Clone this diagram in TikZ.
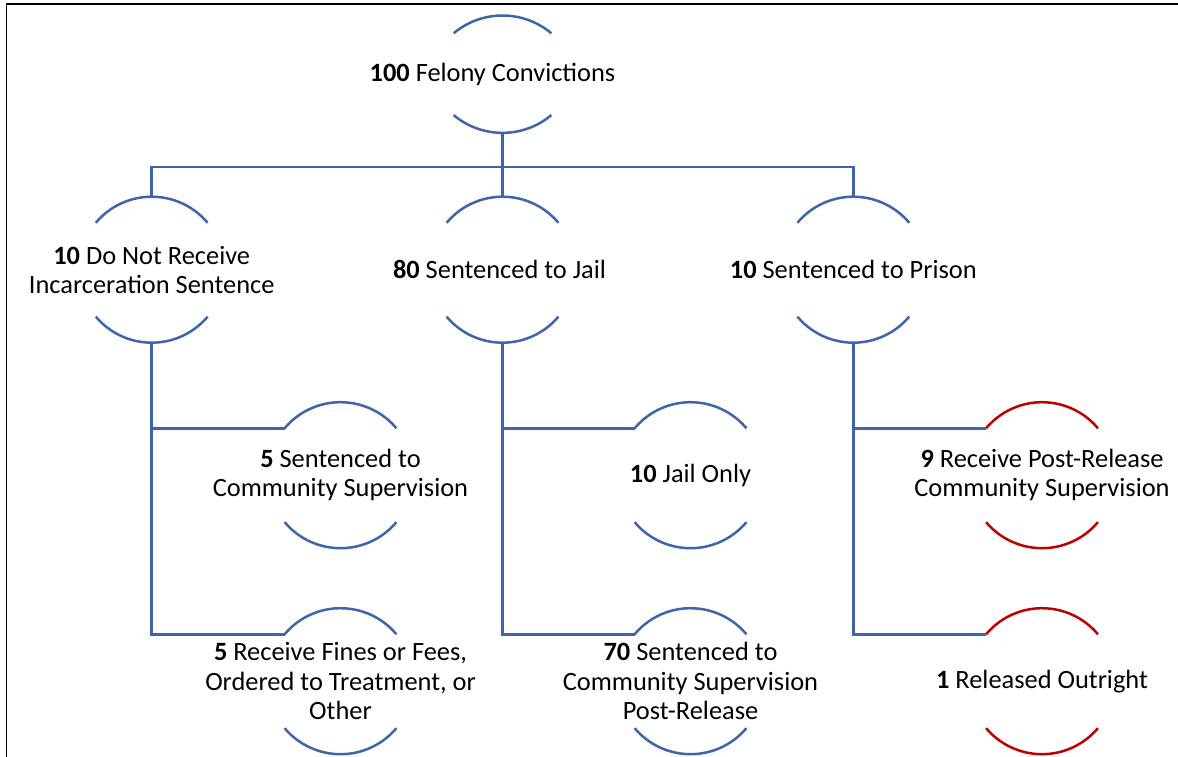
\documentclass[tikz,border=0pt]{standalone}
\usepackage{fontspec}
\setmainfont{Carlito}
\usetikzlibrary{calc}
\definecolor{ringblue}{RGB}{62,100,170}
\definecolor{ringred}{RGB}{192,0,0}
\tikzset{
  ring/.style={circle, minimum size=146pt, inner sep=0pt, outer sep=0pt, draw=none},
  topring/.style={circle, minimum size=117pt, inner sep=0pt, outer sep=0pt, draw=none},
  txt/.style={align=center, inner sep=0pt, font=\fontsize{26.4}{29.3}\selectfont},
  arcline/.style={line width=2.5pt, ringblue},
  redline/.style={line width=2.5pt, ringred},
  conn/.style={line width=2.5pt, ringblue},
  frame/.style={line width=1.8pt, black}
}
\newcommand\ringarcs[2]{%
  \draw[#2] (#1.140) arc[start angle=140, end angle=40, radius=73];
  \draw[#2] (#1.220) arc[start angle=220, end angle=320, radius=73];}
\begin{document}
\begin{tikzpicture}[x=1pt,y=1pt]
\useasboundingbox (0,0) rectangle (1178,-757);
% frame
\coordinate (fA) at (6.5,-757);
\coordinate (fB) at (6.5,-4.3);
\coordinate (fC) at (1178,-4.3);
\draw[frame] (fA) -- (fB) -- (fC);

% nodes
\node[topring] (top) at (502.5,-74.2) {};
\node[ring] (L2) at (151.7,-269.7) {};
\node[ring] (M2) at (502.5,-269.7) {};
\node[ring] (R2) at (853.3,-269.7) {};
\node[ring] (L3) at (340.5,-475.2) {};
\node[ring] (M3) at (690.5,-475.2) {};
\node[ring] (R3) at (1042,-475.2) {};
\node[ring] (L4) at (340.5,-681.2) {};
\node[ring] (M4) at (690.5,-681.2) {};
\node[ring] (R4) at (1042,-681.2) {};

% arcs
\draw[arcline] ($(top.center)+(-48.85,40.9)$) arc[start angle=130, end angle=50, radius=76];
\draw[arcline] ($(top.center)+(-48.85,-40.9)$) arc[start angle=230, end angle=310, radius=76];
\ringarcs{L2}{arcline}
\ringarcs{M2}{arcline}
\ringarcs{R2}{arcline}
\ringarcs{L3}{arcline}
\ringarcs{M3}{arcline}
\ringarcs{R3}{redline}
\ringarcs{L4}{arcline}
\ringarcs{M4}{arcline}
\ringarcs{R4}{redline}

% connectors
\draw[conn] (top.south) -- ++(0,-34.3) -| (L2.north);
\draw[conn] (top.south) -- ++(0,-34.3) -| (R2.north);
\draw[conn] (top.south) -- (M2.north);
\draw[conn] (L2.south) |- (L3.140);
\draw[conn] (L2.south) |- (L4.140);
\draw[conn] (M2.south) |- (M3.140);
\draw[conn] (M2.south) |- (M4.140);
\draw[conn] (R2.south) |- (R3.140);
\draw[conn] (R2.south) |- (R4.140);

% texts
\node[txt] (t0) at ($(top)+(-10,0)$) {\textbf{100} Felony Convictions};
\node[txt] (tL2) at (L2) {\textbf{10} Do Not Receive\\Incarceration Sentence};
\node[txt] (tM2) at ($(M2)+(-3,0)$) {\textbf{80} Sentenced to Jail};
\node[txt] (tR2) at (R2) {\textbf{10} Sentenced to Prison};
\node[txt] (tL3) at (L3) {\textbf{5} Sentenced to\\Community Supervision};
\node[txt] (tM3) at (M3) {\textbf{10} Jail Only};
\node[txt] (tR3) at (R3) {\textbf{9} Receive Post-Release\\Community Supervision};
\node[txt] (tL4) at (L4) {\textbf{5} Receive Fines or Fees,\\Ordered to Treatment, or\\Other};
\node[txt] (tM4) at (M4) {\textbf{70} Sentenced to\\Community Supervision\\Post-Release};
\node[txt] (tR4) at (R4) {\textbf{1} Released Outright};
\end{tikzpicture}
\end{document}
